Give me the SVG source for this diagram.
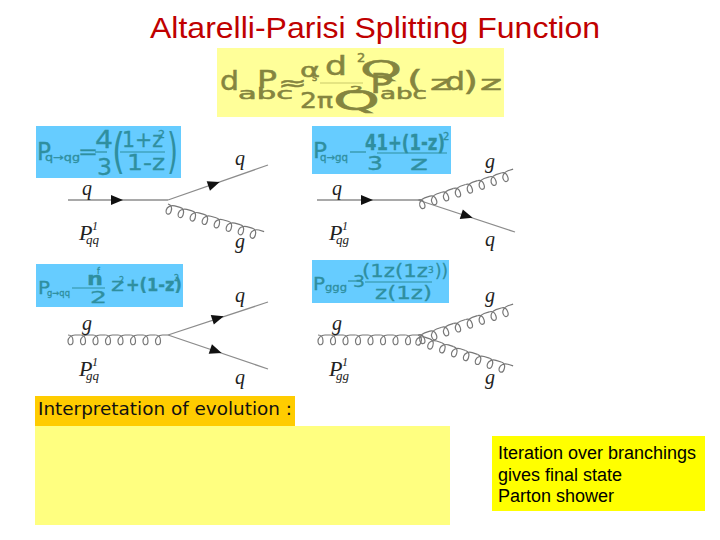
<svg xmlns="http://www.w3.org/2000/svg" width="720" height="540" viewBox="0 0 720 540">
<style>
.ln{stroke:#8c8c8c;stroke-width:1.3;fill:none}
.gl{stroke:#777;stroke-width:1.2;fill:none}
.lab{font-family:"Liberation Serif",serif;font-style:italic;fill:#222}
.ol{font-family:"DejaVu Sans",sans-serif;fill:#85853f;stroke:#85853f;stroke-width:.5}
.t{font-family:"DejaVu Sans",sans-serif;fill:#2f8f9f;stroke:#2f8f9f;stroke-width:.3}
.rule{stroke:#2f8f9f;stroke-width:1.2}
</style>
<defs>
<path id="arr" d="M-6,-5 L6,0 L-6,5 Z" fill="#111"/>
<path id="lp" d="M0,0 C3,0 5,2 5,6 C5,11 0,11 0,6 C0,3 3,0 7,0 L12.500,0" class="gl"/>
<g id="gluon">
<use href="#lp" x="0"/><use href="#lp" x="12.500"/><use href="#lp" x="25"/><use href="#lp" x="37.500"/>
<use href="#lp" x="50"/><use href="#lp" x="62.500"/><use href="#lp" x="75"/><use href="#lp" x="87.500"/>
</g>
</defs>
<rect width="720" height="540" fill="#fff"/>
<text id="title" x="375" y="38" text-anchor="middle" font-family="Liberation Sans, sans-serif" font-size="29" textLength="450" lengthAdjust="spacingAndGlyphs" fill="#c00000">Altarelli-Parisi Splitting Function</text>

<g id="main-formula">
<rect x="217" y="48" width="287" height="69" fill="#ffff99"/>
<text class="ol" x="220" y="90" font-size="26" textLength="19" lengthAdjust="spacingAndGlyphs">d</text>
<text class="ol" x="257" y="88" font-size="25" textLength="20" lengthAdjust="spacingAndGlyphs">P</text>
<text class="ol" x="238" y="99" font-size="15" textLength="55" lengthAdjust="spacingAndGlyphs">abc</text>
<text class="ol" x="278" y="90" font-size="20" textLength="29" lengthAdjust="spacingAndGlyphs">≈</text>
<text class="ol" x="300" y="77" font-size="19" textLength="20" lengthAdjust="spacingAndGlyphs">α</text>
<text class="ol" x="312" y="81" font-size="10">s</text>
<text class="ol" x="325" y="75" font-size="26" textLength="22" lengthAdjust="spacingAndGlyphs">d</text>
<text class="ol" x="360" y="78" font-size="25" textLength="42" lengthAdjust="spacingAndGlyphs">Q</text>
<text class="ol" x="357" y="62" font-size="13">2</text>
<line x1="320" y1="83" x2="363" y2="83" stroke="#c9c96a"/>
<text class="ol" x="300" y="108" font-size="22" textLength="33" lengthAdjust="spacingAndGlyphs">2π</text>
<text class="ol" x="333" y="110" font-size="26" textLength="47" lengthAdjust="spacingAndGlyphs">Q</text>
<text class="ol" x="350" y="93" font-size="8" textLength="13" lengthAdjust="spacingAndGlyphs">2</text>
<text class="ol" x="370" y="93" font-size="27" textLength="23" lengthAdjust="spacingAndGlyphs">P</text>
<text class="ol" x="380" y="99" font-size="15" textLength="47" lengthAdjust="spacingAndGlyphs">abc</text>
<text class="ol" x="407" y="88" font-size="25" textLength="16" lengthAdjust="spacingAndGlyphs">(</text>
<text class="ol" x="430" y="90" font-size="19" textLength="22" lengthAdjust="spacingAndGlyphs">z</text>
<text class="ol" x="445" y="90" font-size="24" textLength="20" lengthAdjust="spacingAndGlyphs">d</text>
<text class="ol" x="463" y="90" font-size="26" textLength="15" lengthAdjust="spacingAndGlyphs">)</text>
<text class="ol" x="480" y="90" font-size="19" textLength="22" lengthAdjust="spacingAndGlyphs">z</text>
</g>

<g id="formula-qq">
<rect x="36" y="126" width="145" height="52" fill="#66ccff"/>
<text class="t" x="37" y="160" font-size="24" textLength="14" lengthAdjust="spacingAndGlyphs">P</text>
<text class="t" x="45" y="161" font-size="10" textLength="35" lengthAdjust="spacingAndGlyphs">q→qg</text>
<text class="t" x="78" y="158" font-size="20" textLength="20" lengthAdjust="spacingAndGlyphs">=</text>
<line x1="95" y1="152" x2="107" y2="152" class="rule"/>
<text class="t" x="95" y="148" font-size="25" textLength="18" lengthAdjust="spacingAndGlyphs">4</text>
<text class="t" x="97" y="175" font-size="23" textLength="15" lengthAdjust="spacingAndGlyphs">3</text>
<text class="t" x="112" y="168" font-size="48" style="stroke:none" textLength="13" lengthAdjust="spacingAndGlyphs">(</text>
<text class="t" x="122" y="147" font-size="21" textLength="41" lengthAdjust="spacingAndGlyphs">1+z</text>
<text class="t" x="158" y="138" font-size="11">2</text>
<line x1="120" y1="152" x2="165" y2="152" class="rule"/>
<text class="t" x="127" y="170" font-size="21" textLength="38" lengthAdjust="spacingAndGlyphs">1-z</text>
<text class="t" x="167" y="168" font-size="48" style="stroke:none" textLength="11" lengthAdjust="spacingAndGlyphs">)</text>
</g>

<g id="formula-qg">
<rect x="312" y="126" width="139" height="48" fill="#66ccff"/>
<text class="t" x="313" y="158" font-size="21" textLength="14" lengthAdjust="spacingAndGlyphs">P</text>
<text class="t" x="320" y="161" font-size="10" textLength="28" lengthAdjust="spacingAndGlyphs">q→gq</text>
<line x1="350" y1="152" x2="366" y2="152" class="rule"/>
<text class="t" x="365" y="150" font-size="21" font-weight="bold" textLength="80" lengthAdjust="spacingAndGlyphs">41+(1-z)</text>
<text class="t" x="443" y="140" font-size="10">2</text>
<line x1="377" y1="153" x2="447" y2="153" class="rule"/>
<text class="t" x="367" y="170" font-size="20" textLength="16" lengthAdjust="spacingAndGlyphs">3</text>
<text class="t" x="410" y="170" font-size="20" textLength="18" lengthAdjust="spacingAndGlyphs">z</text>
</g>

<g id="formula-gq">
<rect x="36" y="264" width="147" height="43" fill="#66ccff"/>
<text class="t" x="38" y="294" font-size="18" textLength="12" lengthAdjust="spacingAndGlyphs">P</text>
<text class="t" x="47" y="296" font-size="9" textLength="23" lengthAdjust="spacingAndGlyphs">g→qq</text>
<line x1="72" y1="288" x2="105" y2="288" class="rule"/>
<text class="t" x="87" y="285" font-size="18" font-weight="bold" textLength="16" lengthAdjust="spacingAndGlyphs">n</text>
<text class="t" x="97" y="274" font-size="8">f</text>
<text class="t" x="90" y="303" font-size="15" textLength="17" lengthAdjust="spacingAndGlyphs">2</text>
<text class="t" x="111" y="291" font-size="18" textLength="13" lengthAdjust="spacingAndGlyphs">z</text>
<text class="t" x="119" y="283" font-size="8">2</text>
<text class="t" x="126" y="291" font-size="17" font-weight="bold" textLength="56" lengthAdjust="spacingAndGlyphs">+(1-z)</text>
<text class="t" x="174" y="281" font-size="8">2</text>
</g>

<g id="formula-gg">
<rect x="312" y="260" width="137" height="43" fill="#66ccff"/>
<text class="t" x="313" y="290" font-size="18" textLength="12" lengthAdjust="spacingAndGlyphs">P</text>
<text class="t" x="325" y="291" font-size="10" textLength="22" lengthAdjust="spacingAndGlyphs">ggg</text>
<line x1="348" y1="281" x2="362" y2="281" class="rule"/>
<line x1="365" y1="282" x2="432" y2="282" class="rule"/>
<text class="t" x="353" y="287" font-size="16" textLength="12" lengthAdjust="spacingAndGlyphs">3</text>
<text class="t" x="362" y="277" font-size="18" textLength="66" lengthAdjust="spacingAndGlyphs">(1z(1z</text>
<text class="t" x="428" y="273" font-size="9">3</text>
<text class="t" x="435" y="277" font-size="18" textLength="13" lengthAdjust="spacingAndGlyphs">))</text>
<text class="t" x="375" y="299" font-size="18" textLength="57" lengthAdjust="spacingAndGlyphs">z(1z)</text>
</g>

<g id="connectors">
<line class="ln" x1="68" y1="200" x2="168" y2="200"/>
<line class="ln" x1="168" y1="200" x2="268" y2="165"/>
<use href="#gluon" transform="translate(168,204) rotate(16)"/>
<use href="#arr" transform="translate(117,200)"/>
<use href="#arr" transform="translate(214,184) rotate(-19)"/>

<line class="ln" x1="317" y1="200" x2="418" y2="200"/>
<line class="ln" x1="418" y1="200" x2="515" y2="232"/>
<use href="#gluon" transform="translate(418,200) rotate(-18)"/>
<use href="#arr" transform="translate(367,200)"/>
<use href="#arr" transform="translate(467,216) rotate(18)"/>

<use href="#gluon" transform="translate(68,335)"/>
<line class="ln" x1="168" y1="335" x2="268" y2="302"/>
<line class="ln" x1="168" y1="335" x2="268" y2="369"/>
<use href="#arr" transform="translate(218,318) rotate(-18)"/>
<use href="#arr" transform="translate(216,351) rotate(19)"/>

<use href="#gluon" transform="translate(318,335)"/>
<use href="#gluon" transform="translate(418,335) rotate(-18)"/>
<use href="#gluon" transform="translate(418,335) rotate(18)"/>
</g>

<g id="labels-qq">
<text class="lab" x="82" y="195" font-size="20">q</text><text class="lab" x="235" y="165" font-size="20">q</text><text class="lab" x="235" y="248" font-size="20">g</text>
<text class="lab" x="79" y="240" font-size="22">P</text><text class="lab" x="92" y="230" font-size="12">1</text><text class="lab" x="86" y="244" font-size="13">qq</text>
</g>
<g id="labels-qg">
<text class="lab" x="332" y="195" font-size="20">q</text><text class="lab" x="485" y="168" font-size="20">g</text><text class="lab" x="485" y="246" font-size="20">q</text>
<text class="lab" x="329" y="240" font-size="22">P</text><text class="lab" x="342" y="230" font-size="12">1</text><text class="lab" x="336" y="244" font-size="13">qg</text>
</g>
<g id="labels-gq">
<text class="lab" x="82" y="330" font-size="20">g</text><text class="lab" x="235" y="302" font-size="20">q</text><text class="lab" x="235" y="384" font-size="20">q</text>
<text class="lab" x="79" y="376" font-size="22">P</text><text class="lab" x="92" y="366" font-size="12">1</text><text class="lab" x="86" y="380" font-size="13">gq</text>
</g>
<g id="labels-gg">
<text class="lab" x="332" y="330" font-size="20">g</text><text class="lab" x="485" y="302" font-size="20">g</text><text class="lab" x="485" y="384" font-size="20">g</text>
<text class="lab" x="329" y="376" font-size="22">P</text><text class="lab" x="342" y="366" font-size="12">1</text><text class="lab" x="336" y="380" font-size="13">gg</text>
</g>

<g id="interpretation">
<rect x="35" y="426" width="415" height="99" fill="#ffff80"/>
<rect x="35" y="396" width="260" height="30" fill="#ffcc00"/>
<text x="38" y="415" font-family="DejaVu Sans, sans-serif" font-size="18" fill="#111" textLength="254" lengthAdjust="spacingAndGlyphs">Interpretation of evolution :</text>
</g>

<g id="note">
<rect x="492" y="436" width="213" height="75" fill="#ffff00"/>
<text font-family="Liberation Sans, sans-serif" font-size="18" fill="#000"><tspan x="498" y="459">Iteration over branchings</tspan><tspan x="498" y="481">gives final state</tspan><tspan x="498" y="502">Parton shower</tspan></text>
</g>
</svg>
